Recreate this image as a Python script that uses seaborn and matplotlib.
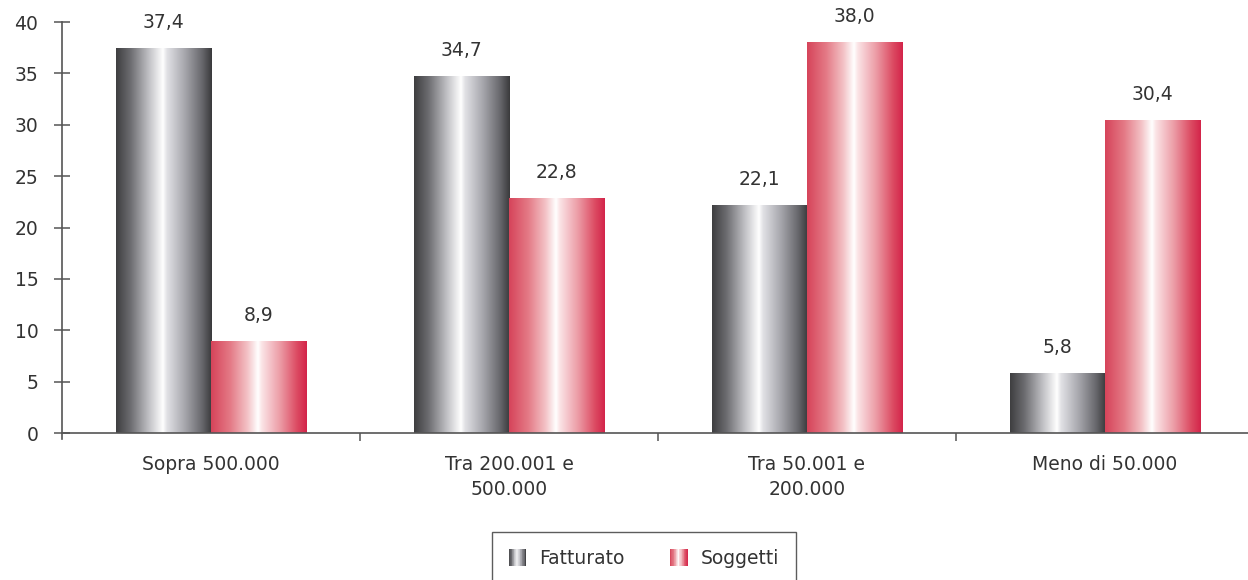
import numpy as np
import pandas as pd
import matplotlib
matplotlib.use("Agg")
import matplotlib.pyplot as plt
import seaborn as sns
from matplotlib.colors import LinearSegmentedColormap
from matplotlib.legend_handler import HandlerBase
from matplotlib.patches import Rectangle

# data
categories = ["Sopra 500.000", "Tra 200.001 e\n500.000", "Tra 50.001 e\n200.000", "Meno di 50.000"]
fatturato = [37.4, 34.7, 22.1, 5.8]
soggetti = [8.9, 22.8, 38.0, 30.4]
series = ["Fatturato", "Soggetti"]
y_ticks = [0, 5, 10, 15, 20, 25, 30, 35, 40]

df = pd.DataFrame({
    "categoria": categories * 2,
    "serie": [series[0]] * 4 + [series[1]] * 4,
    "valore": fatturato + soggetti,
})

# cylinder-like horizontal gradients
gray_cmap = LinearSegmentedColormap.from_list("grigio", [
    (0.0, "#3e3e40"), (0.15, "#6c6c70"), (0.35, "#c4c4c8"), (0.49, "#ffffff"),
    (0.53, "#e2e2e6"), (0.72, "#a6a6ac"), (0.9, "#67676c"), (1.0, "#3a3a3c")])
red_cmap = LinearSegmentedColormap.from_list("rosso", [
    (0.0, "#d6445a"), (0.2, "#e47a86"), (0.38, "#f3c2c6"), (0.49, "#ffffff"),
    (0.53, "#fbe4e6"), (0.72, "#ec9ca6"), (0.9, "#dc4a62"), (1.0, "#d3244a")])
cmaps = {"Fatturato": gray_cmap, "Soggetti": red_cmap}

text_col = "#333333"
axis_col = "#555555"
fs = 13.5

sns.set_style("white")
plt.rcParams["font.family"] = ["DejaVu Sans"]

fig = plt.figure(figsize=(12.48, 5.8), dpi=100)
ax = fig.add_axes([0.0497, 0.2534, 0.955, 0.7086])

sns.barplot(data=df, x="categoria", y="valore", hue="serie", order=categories,
            hue_order=series, width=0.64, ax=ax, legend=False, saturation=1)

grad = np.linspace(0, 1, 256).reshape(1, -1)
for container, name in zip(ax.containers, series):
    for bar, val in zip(container.patches, df[df["serie"] == name]["valore"]):
        x0, y0, w, h = bar.get_x(), bar.get_y(), bar.get_width(), bar.get_height()
        bar.set_facecolor("none")
        bar.set_edgecolor("none")
        ax.imshow(grad, extent=[x0, x0 + w, y0, y0 + h], aspect="auto",
                  cmap=cmaps[name], zorder=2, interpolation="bilinear")
        ax.annotate(f"{val:.1f}".replace(".", ","), (x0 + w / 2, y0 + h),
                    xytext=(0, 12), textcoords="offset points", ha="center",
                    va="bottom", fontsize=fs, color=text_col)

ax.set_xlim(-0.5, 3.5)
ax.set_ylim(0, 40)
ax.set_yticks(y_ticks)
ax.set_xlabel("")
ax.set_ylabel("")
for lbl in ax.get_xticklabels():
    lbl.set_linespacing(1.35)

for side in ["top", "right"]:
    ax.spines[side].set_visible(False)
for side in ["left", "bottom"]:
    ax.spines[side].set_color(axis_col)
    ax.spines[side].set_linewidth(1.2)
ax.spines["left"].set_bounds(-0.6, 40)

ax.tick_params(axis="y", direction="inout", length=12, width=1.1, color=axis_col,
               labelsize=fs, labelcolor=text_col, pad=11, left=True)
ax.tick_params(axis="x", which="major", length=0, labelsize=fs,
               labelcolor=text_col, pad=16)
ax.set_xticks([0.5, 1.5, 2.5], minor=True)
ax.tick_params(axis="x", which="minor", direction="out", length=6, width=1.1,
               color=axis_col, bottom=True)


class GradientHandler(HandlerBase):
    def __init__(self, cmap):
        super().__init__()
        self.cmap = cmap

    def create_artists(self, legend, orig_handle, xdescent, ydescent,
                       width, height, fontsize, trans):
        n = 24
        side = min(width, height)
        arts = []
        for i in range(n):
            r = Rectangle((-xdescent + i * side / n, -ydescent), side / n + 0.2,
                          side, facecolor=self.cmap((i + 0.5) / n),
                          linewidth=0, transform=trans)
            arts.append(r)
        return arts


h1 = Rectangle((0, 0), 1, 1)
h2 = Rectangle((0, 0), 1, 1)
leg = fig.legend([h1, h2], series, loc="upper center", bbox_to_anchor=(0.516, 0.083),
                 ncol=2, frameon=True, fancybox=False, fontsize=fs,
                 handlelength=1.05, handleheight=1.05, handletextpad=0.6,
                 columnspacing=2.4, borderpad=0.9, borderaxespad=0,
                 handler_map={h1: GradientHandler(gray_cmap), h2: GradientHandler(red_cmap)})
leg.get_frame().set_edgecolor("#333333")
leg.get_frame().set_linewidth(1.0)
for t in leg.get_texts():
    t.set_color(text_col)

fig.savefig("out.png", dpi=100)
